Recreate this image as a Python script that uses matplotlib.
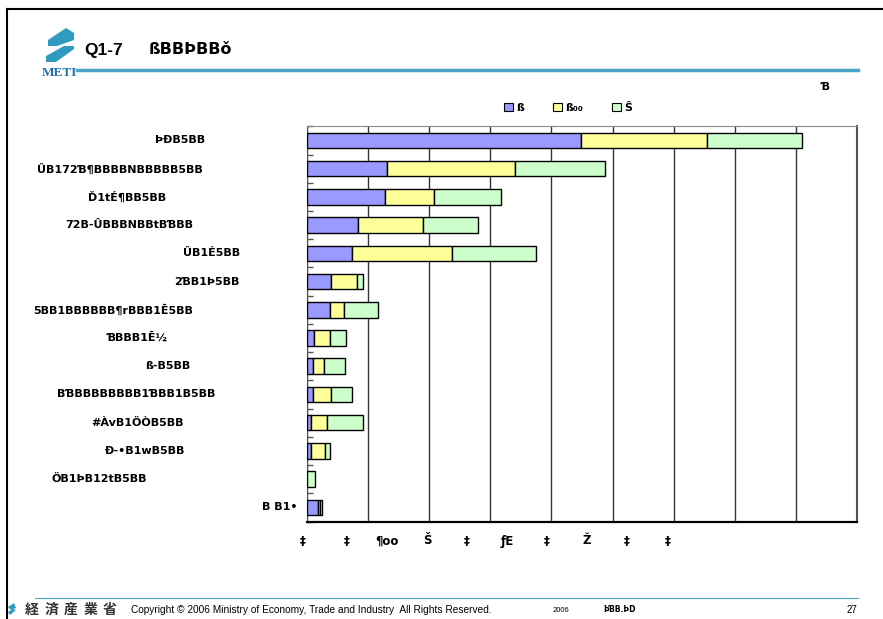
import matplotlib
matplotlib.use("Agg")
import matplotlib.pyplot as plt
import matplotlib.transforms as mtransforms
from matplotlib.patches import Polygon, Patch
from matplotlib.lines import Line2D
import numpy as np

# category labels (top to bottom), as they appear in the slide
categories = ["ÞÐB5BB", "ÛB172Ɓ¶BBBBNBBBBB5BB", "Ď1tÉ¶BB5BB", "72B-ÛBBBNBBtBƁBB",
              "ÛB1É5BB", "2ƁB1Þ5BB", "5BB1BBBBBB¶rBBB1Ĕ5BB", "ƁBBB1Ĕ½",
              "ß-B5BB", "BƁBBBBBBBB1ƁBB1B5BB", "#ÀvB1ÖÒB5BB", "Ð-•B1wB5BB",
              "ÖB1ÞB12tB5BB", "B B1•"]
# where each label ends (pixels from left of slide)
label_right = [205, 203, 166, 193, 240, 240, 193, 168, 190, 215, 184, 185, 147, 297]

series_names = ["ß", "ß₀₀", "Ŝ"]
blue = [4.48, 1.31, 1.28, 0.83, 0.74, 0.40, 0.37, 0.12, 0.10, 0.10, 0.065, 0.065, 0.0, 0.18]
yellow = [2.07, 2.10, 0.79, 1.06, 1.63, 0.42, 0.24, 0.25, 0.18, 0.30, 0.265, 0.235, 0.0, 0.04]
green = [1.55, 1.47, 1.10, 0.91, 1.38, 0.10, 0.55, 0.27, 0.34, 0.34, 0.59, 0.07, 0.13, 0.03]

xtick_labels = ["‡", "‡", "¶oo", "Š", "‡", "ƒE", "‡", "Ž", "‡", "‡"]
xtick_px = [303, 347, 387, 427, 467, 507, 547, 587, 627, 668]

colors = ["#9999ff", "#ffff99", "#ccffcc"]

W, H = 883, 619
plt.rcParams['font.family'] = ['DejaVu Sans', 'Noto Sans CJK JP']

fig = plt.figure(figsize=(W / 100, H / 100), dpi=100)

def px(x, y):
    return (x / W, 1 - y / H)

ax = fig.add_axes([307 / W, (H - 521.5) / H, (857 - 307) / W, (521.5 - 126.3) / H])

y = np.arange(len(categories))
left = np.zeros(len(categories))
handles = []
for vals, c, name in zip([blue, yellow, green], colors, series_names):
    vals = np.array(vals)
    ax.barh(y, vals, left=left, height=0.55, color=c, edgecolor="black", linewidth=1.0, zorder=3)
    left = left + vals
    handles.append(Patch(facecolor=c, edgecolor="black", linewidth=0.8, label=name))

ax.set_xlim(0, 9)
ax.set_ylim(len(categories) - 0.5, -0.5)
ax.set_xticks(np.arange(0, 10))
ax.set_xticklabels([])
ax.tick_params(axis="x", length=0)
ax.grid(axis="x", color="#333333", linewidth=1.0, zorder=1)
ax.set_yticks(np.arange(len(categories) + 1) - 0.5)
ax.set_yticklabels([])
ax.tick_params(axis="y", direction="in", length=4, width=1, color="#555555")
ax.spines["bottom"].set_linewidth(1.6)
ax.spines["left"].set_color("#555555")
ax.spines["top"].set_color("#888888")
ax.spines["right"].set_color("#555555")
ax.spines["right"].set_linewidth(1.5)

# category labels
tr = mtransforms.blended_transform_factory(fig.transFigure, ax.transData)
for i, (lab, rx) in enumerate(zip(categories, label_right)):
    ax.text(rx / W, i, lab, transform=tr, ha="right", va="center",
            fontsize=8, fontweight="bold", clip_on=False)

# garbled axis labels under the plot
for lab, xp in zip(xtick_labels, xtick_px):
    fig.text(*px(xp, 541), lab, ha="center", va="center", fontsize=8.5, fontweight="bold")

# legend
fig.legend(handles=handles, loc="center", bbox_to_anchor=px(568, 108), ncol=3,
           frameon=False, handlelength=0.8, handleheight=0.8, handletextpad=0.3,
           columnspacing=2.6, prop={"size": 8, "weight": "bold"})
fig.text(*px(825, 87), "Ɓ", ha="center", va="center", fontsize=8, fontweight="bold")

# slide header
fig.add_artist(Line2D([7 / W, 1], [1 - 9 / H, 1 - 9 / H], color="black", linewidth=1.5))
fig.add_artist(Line2D([7 / W, 7 / W], [0, 1 - 9 / H], color="black", linewidth=1.5))
teal = "#2e9cc0"
logo_top = [px(48, 40), px(66, 28), px(74, 33), px(74, 40), px(57, 46), px(48, 46)]
logo_bot = [px(74, 49), px(56, 62), px(46, 62), px(46, 56), px(64, 46), px(74, 46)]
for pts in (logo_top, logo_bot):
    fig.add_artist(Polygon(pts, closed=True, facecolor=teal, edgecolor="none", transform=fig.transFigure))
fig.text(*px(59, 73), "METI", ha="center", va="center", fontsize=9.5, fontweight="bold",
         color="#1f6fae", family="Liberation Serif")
fig.add_artist(Line2D([77 / W, 858 / W], [1 - 70 / H, 1 - 70 / H], color="#4ba3c6", linewidth=2.5))
fig.text(*px(84, 50), "Q1-7", ha="left", va="center", fontsize=12.5, fontweight="bold",
         family="Liberation Sans")
fig.text(*px(149, 50), "ßBBÞBBǒ", ha="left", va="center", fontsize=11.5, fontweight="bold")

# footer
fig.add_artist(Line2D([35 / W, 858 / W], [1 - 598 / H, 1 - 598 / H], color="#4ba3c6", linewidth=0.8))
fig.add_artist(Polygon([px(8, 607), px(14, 603), px(16, 608), px(11, 610)], closed=True,
                       facecolor=teal, edgecolor="none", transform=fig.transFigure))
fig.add_artist(Polygon([px(16, 610), px(10, 615), px(8, 612), px(13, 609)], closed=True,
                       facecolor=teal, edgecolor="none", transform=fig.transFigure))
for k, ch in enumerate("経済産業省"):
    fig.text(*px(32 + 19.5 * k, 610), ch, ha="center", va="center", fontsize=10, fontweight="bold",
             family=["Noto Sans CJK JP"], color="#333333")
fig.text(*px(131, 610), "Copyright © 2006 Ministry of Economy, Trade and Industry  All Rights Reserved.",
         ha="left", va="center", fontsize=7.3, family="Liberation Sans")
fig.text(*px(553, 610), "2006", ha="left", va="center", fontsize=5.5, family="Liberation Sans")
fig.text(*px(603, 610), "ÞƁB.ÞD", ha="left", va="center", fontsize=5.5, fontweight="bold")
fig.text(*px(857, 610), "27", ha="right", va="center", fontsize=7, family="Liberation Sans")

fig.savefig("out.png", dpi=100)
